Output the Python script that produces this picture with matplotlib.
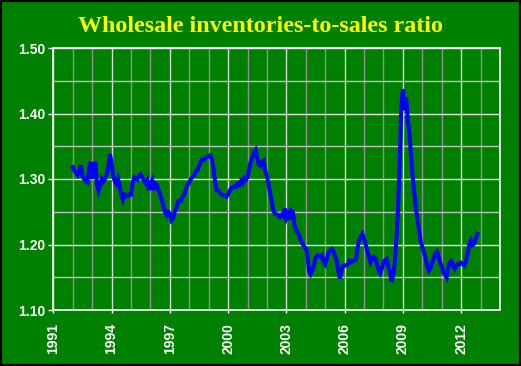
import numpy as np
import matplotlib
matplotlib.use("Agg")
import matplotlib.pyplot as plt
from matplotlib.ticker import MultipleLocator, FormatStrFormatter
from matplotlib.patches import Rectangle

title = "Wholesale inventories-to-sales ratio"
start_year = 1992  # monthly data, starting January 1992

ratio_1992 = [1.318, 1.313, 1.309, 1.306, 1.312, 1.321, 1.305, 1.300, 1.297, 1.295, 1.312, 1.326]
ratio_1993 = [1.300, 1.318, 1.326, 1.292, 1.282, 1.290, 1.300, 1.296, 1.300, 1.307, 1.318, 1.338]
ratio_1994 = [1.325, 1.305, 1.296, 1.292, 1.300, 1.290, 1.275, 1.268, 1.276, 1.275, 1.274, 1.276]
ratio_1995 = [1.276, 1.294, 1.302, 1.300, 1.299, 1.305, 1.307, 1.302, 1.298, 1.294, 1.298, 1.283]
ratio_1996 = [1.293, 1.298, 1.283, 1.293, 1.291, 1.283, 1.276, 1.268, 1.260, 1.250, 1.245, 1.250]
ratio_1997 = [1.248, 1.237, 1.240, 1.250, 1.255, 1.265, 1.267, 1.267, 1.273, 1.276, 1.285, 1.291]
ratio_1998 = [1.295, 1.300, 1.303, 1.305, 1.312, 1.313, 1.320, 1.326, 1.330, 1.329, 1.332, 1.334]
ratio_1999 = [1.335, 1.336, 1.330, 1.316, 1.296, 1.283, 1.282, 1.279, 1.276, 1.275, 1.275, 1.273]
ratio_2000 = [1.276, 1.282, 1.286, 1.287, 1.289, 1.288, 1.293, 1.291, 1.297, 1.294, 1.301, 1.299]
ratio_2001 = [1.303, 1.315, 1.327, 1.333, 1.340, 1.344, 1.333, 1.322, 1.320, 1.326, 1.328, 1.312]
ratio_2002 = [1.305, 1.292, 1.278, 1.265, 1.252, 1.247, 1.246, 1.245, 1.242, 1.245, 1.243, 1.255]
ratio_2003 = [1.240, 1.246, 1.238, 1.252, 1.250, 1.230, 1.222, 1.218, 1.214, 1.206, 1.201, 1.197]
ratio_2004 = [1.194, 1.185, 1.160, 1.155, 1.160, 1.168, 1.180, 1.183, 1.183, 1.181, 1.183, 1.174]
ratio_2005 = [1.170, 1.178, 1.188, 1.190, 1.193, 1.190, 1.183, 1.176, 1.162, 1.148, 1.160, 1.167]
ratio_2006 = [1.168, 1.168, 1.170, 1.175, 1.173, 1.175, 1.175, 1.177, 1.195, 1.208, 1.212, 1.216]
ratio_2007 = [1.209, 1.200, 1.190, 1.182, 1.173, 1.178, 1.181, 1.179, 1.170, 1.160, 1.156, 1.163]
ratio_2008 = [1.173, 1.176, 1.178, 1.166, 1.158, 1.143, 1.153, 1.173, 1.209, 1.255, 1.320, 1.410]
ratio_2009 = [1.437, 1.405, 1.425, 1.390, 1.370, 1.337, 1.305, 1.280, 1.255, 1.238, 1.220, 1.205]
ratio_2010 = [1.196, 1.188, 1.180, 1.166, 1.160, 1.163, 1.173, 1.178, 1.186, 1.189, 1.182, 1.173]
ratio_2011 = [1.167, 1.157, 1.154, 1.150, 1.164, 1.173, 1.175, 1.168, 1.163, 1.167, 1.170, 1.170]
ratio_2012 = [1.172, 1.170, 1.168, 1.174, 1.186, 1.200, 1.206, 1.199, 1.201, 1.209, 1.216]

ratio = (ratio_1992 + ratio_1993 + ratio_1994 + ratio_1995 + ratio_1996 + ratio_1997
         + ratio_1998 + ratio_1999 + ratio_2000 + ratio_2001 + ratio_2002 + ratio_2003
         + ratio_2004 + ratio_2005 + ratio_2006 + ratio_2007 + ratio_2008 + ratio_2009
         + ratio_2010 + ratio_2011 + ratio_2012)
dates = start_year + np.arange(len(ratio)) / 12.0

x_ticks = [1991, 1994, 1997, 2000, 2003, 2006, 2009, 2012]
y_ticks = [1.10, 1.20, 1.30, 1.40, 1.50]

GREEN = "#008000"

fig = plt.figure(figsize=(5.21, 3.66), dpi=100, facecolor=GREEN)
ax = fig.add_axes([53.3 / 521, 1 - 310 / 366, (500 - 53.3) / 521, (310 - 48) / 366])
ax.set_facecolor(GREEN)

ax.set_xlim(1991, 2014)
ax.set_ylim(1.10, 1.50)
ax.set_xticks(x_ticks)
ax.xaxis.set_minor_locator(MultipleLocator(1))
ax.set_yticks(y_ticks)
ax.yaxis.set_minor_locator(MultipleLocator(0.05))
ax.yaxis.set_major_formatter(FormatStrFormatter("%.2f"))

ax.grid(True, which="minor", axis="x", color="#909090", linewidth=1.0)
ax.grid(True, which="major", axis="x", color="#D8D8D8", linewidth=1.0)
ax.grid(True, which="minor", axis="y", color="#C0C0C0", linewidth=1.0)
ax.grid(True, which="major", axis="y", color="#E4E4E4", linewidth=1.0)
ax.set_axisbelow(True)

for s in ax.spines.values():
    s.set_color("white")
    s.set_linewidth(1.2)

ax.tick_params(axis="both", which="minor", length=0)
ax.tick_params(axis="y", which="major", length=3.6, width=1, color="white", pad=2,
               labelcolor="white", labelsize=10)
ax.tick_params(axis="x", which="major", length=2.5, width=1, color="white", pad=7,
               labelcolor="white", labelsize=10, labelrotation=90)
for lab in ax.get_xticklabels() + ax.get_yticklabels():
    lab.set_fontfamily("Liberation Sans")
    lab.set_fontweight("bold")

ax.plot(dates, ratio, color="#0000FF", linewidth=2.9, solid_joinstyle="miter")

fig.text(260 / 521, 1 - 26 / 366, title, ha="center", va="center",
         color="#FFFF00", fontsize=17.3, fontweight="bold", family="Liberation Serif")

fig.patches.append(Rectangle((0, 0), 1, 1, transform=fig.transFigure, fill=False,
                             edgecolor="black", linewidth=3))

fig.savefig("out.png", dpi=100, facecolor=GREEN)
